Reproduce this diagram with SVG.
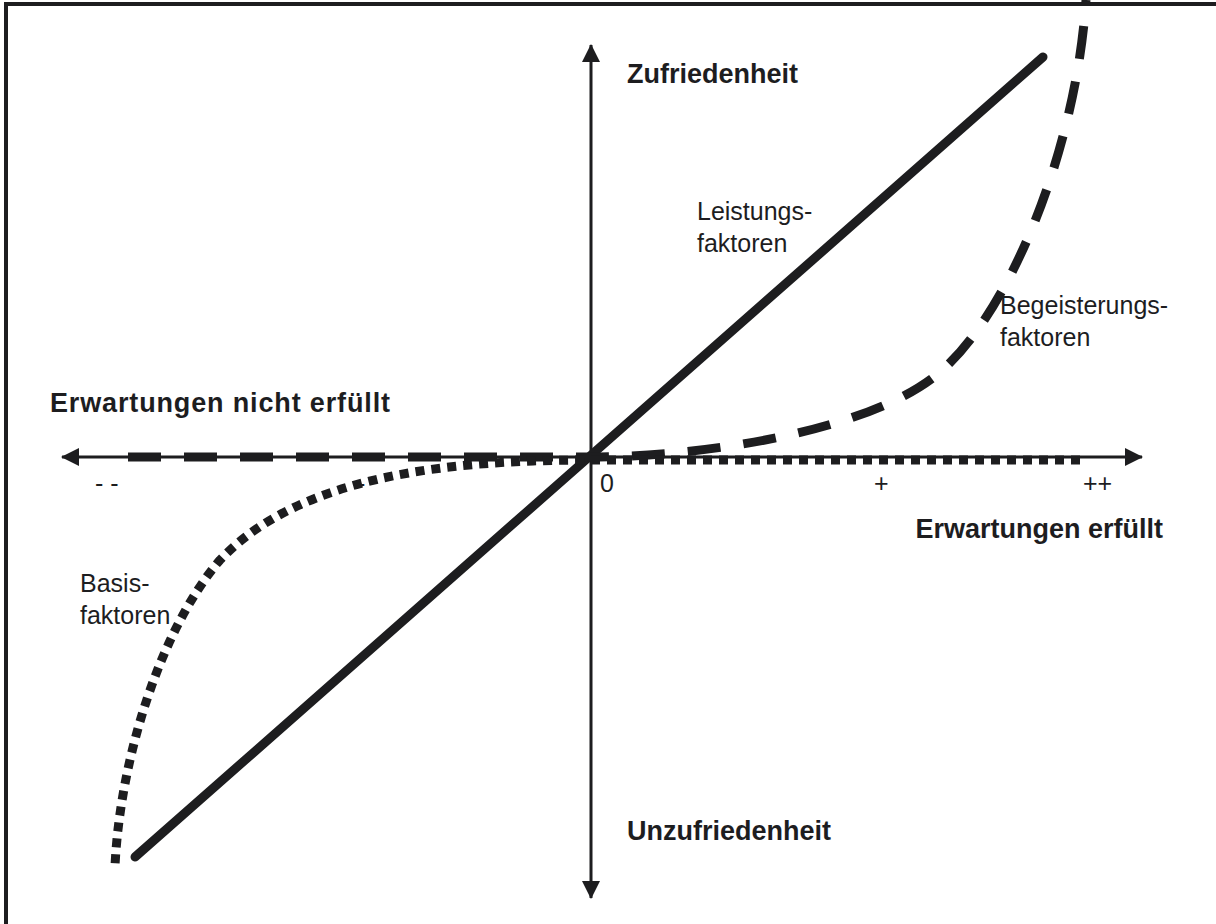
<svg xmlns="http://www.w3.org/2000/svg" width="1216" height="924" viewBox="0 0 1216 924">
  <style>
    .frame { fill: none; stroke: #1d1d1f; stroke-width: 4; }
    .axis { fill: none; stroke: #1d1d1f; stroke-width: 3; }
    .solid { fill: none; stroke: #1d1d1f; stroke-width: 9; stroke-linecap: round; }
    .dashed { fill: none; stroke: #1d1d1f; stroke-width: 9; stroke-dasharray: 33 23; }
    .dotted { fill: none; stroke: #1d1d1f; stroke-width: 9; stroke-dasharray: 9 7; }
    .bold { font-family: "Liberation Sans", Arial, sans-serif; font-weight: bold; font-size: 27px; fill: #1d1d1f; }
    .label { font-family: "Liberation Sans", Arial, sans-serif; font-size: 25px; fill: #1d1d1f; }
  </style>
  <defs>
    <marker id="arrow" viewBox="0 0 18 18" refX="17" refY="9" markerWidth="18" markerHeight="18" markerUnits="userSpaceOnUse" orient="auto-start-reverse">
      <path d="M0,0 L18,9 L0,18 Z" fill="#1d1d1f"/>
    </marker>
  </defs>
  <rect width="1216" height="924" fill="#ffffff"/>
  <rect class="frame" x="6" y="4" width="1230" height="940"/>

  <g id="axes">
    <line class="axis" x1="62" y1="457" x2="1142" y2="457" marker-start="url(#arrow)" marker-end="url(#arrow)"/>
    <line class="axis" x1="591" y1="45" x2="591" y2="898" marker-start="url(#arrow)" marker-end="url(#arrow)"/>
  </g>

  <g id="curves">
    <!-- performance factors: straight line -->
    <line id="leistung" class="solid" x1="135" y1="857" x2="1043" y2="57"/>
    <!-- excitement factors: flat then steeply rising -->
    <path id="begeisterung" class="dashed" d="M128,457 L590,457 C700,457 870,432 940,372 C1010,312 1076,150 1086,0"/>
    <!-- basic factors: flat then steeply falling -->
    <path id="basis" class="dotted" d="M1080,460 L590,460 C450,460 300,475 220,560 C160,630 120,760 115,866"/>
  </g>

  <g id="labels">
    <text class="bold" x="627" y="83">Zufriedenheit</text>
    <text class="bold" x="627" y="840">Unzufriedenheit</text>
    <text class="bold" x="50" y="412" textLength="340" lengthAdjust="spacing">Erwartungen nicht erfüllt</text>
    <text class="bold" x="1163" y="538" text-anchor="end">Erwartungen erfüllt</text>
    <text class="label" x="697" y="220">Leistungs-</text>
    <text class="label" x="697" y="252">faktoren</text>
    <text class="label" x="1000" y="314">Begeisterungs-</text>
    <text class="label" x="1000" y="346">faktoren</text>
    <text class="label" x="80" y="592">Basis-</text>
    <text class="label" x="80" y="624">faktoren</text>
    <text class="label" x="95" y="492">- -</text>
    <text class="label" x="357" y="492">-</text>
    <text class="label" x="600" y="492">0</text>
    <text class="label" x="874" y="492">+</text>
    <text class="label" x="1083" y="492">++</text>
  </g>
</svg>
